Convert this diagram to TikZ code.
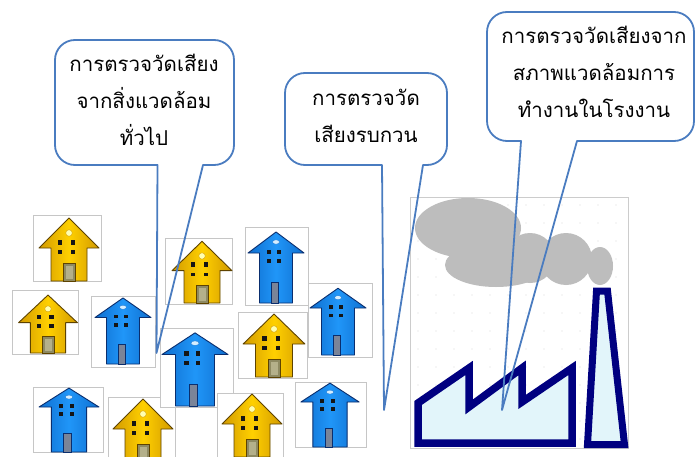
\documentclass[tikz,border=0pt]{standalone}
\usepackage{fontspec}
\newfontfamily\thaifont[Script=Thai]{Loma}
\definecolor{calloutblue}{HTML}{4A7CC0}
\definecolor{housegold}{HTML}{FFD000}
\definecolor{golddark}{HTML}{D29A00}
\definecolor{goldedge}{HTML}{5E4300}
\definecolor{houseblue}{HTML}{2096F8}
\definecolor{bluedark}{HTML}{0F6FD0}
\definecolor{blueedge}{HTML}{0A2E6E}
\definecolor{winblack}{HTML}{151515}
\definecolor{doorolive}{HTML}{8E8A62}
\definecolor{doorlight}{HTML}{B4B08A}
\definecolor{doorgrey}{HTML}{7A8498}
\definecolor{paleyellow}{HTML}{FFFFB0}
\definecolor{paleblue}{HTML}{D6EEFF}
\definecolor{navyline}{HTML}{000080}
\definecolor{smoke}{HTML}{BDBDBD}
\definecolor{floorfill}{HTML}{E2F5FA}
\begin{document}
\begin{tikzpicture}[x=1pt,y=-1pt,
  frame/.style={draw=gray!45, fill=white, line width=0.6pt},
  callout/.style={draw=calloutblue, line width=1.8pt, line join=round},
  calltext/.style={align=center, inner sep=0pt,
    font=\thaifont\fontsize{20.5}{37}\selectfont},
  yhouse/.pic={
    \path[draw=goldedge, line width=0.9pt, line join=round,
      left color=golddark, right color=golddark, middle color=housegold]
      (0,-63) -- (30,-33) -- (18,-33) -- (18,0) -- (-18,0)
      -- (-18,-33) -- (-30,-33) -- cycle;
    \fill[winblack] (-11.2,-41.5) rectangle (-6.8,-36.5);
    \fill[winblack] (1.5,-41.5) rectangle (6,-36.5);
    \fill[winblack] (-11.2,-31) rectangle (-6.8,-27.5);
    \fill[winblack] (1.5,-31) rectangle (6,-27.5);
    \draw[fill=doorolive, draw=goldedge, line width=0.6pt] (-5.5,-18) rectangle (6.5,0);
    \fill[doorlight] (-3,-15) rectangle (4,-2);
    \draw[fill=paleyellow, draw=golddark, line width=0.4pt] (0,-48) circle[radius=3.3];
  },
  bhouse/.pic={
    \path[draw=blueedge, line width=0.9pt, line join=round,
      left color=bluedark, right color=bluedark, middle color=houseblue]
      (0,-71) -- (28,-50) -- (16.5,-50) -- (16.5,0) -- (-16.5,0)
      -- (-16.5,-50) -- (-28,-50) -- cycle;
    \fill[winblack] (-9.5,-53) rectangle (-5.5,-49);
    \fill[winblack] (0.5,-53) rectangle (4.5,-49);
    \fill[winblack] (-9.5,-44) rectangle (-5.5,-40);
    \fill[winblack] (0.5,-44) rectangle (4.5,-40);
    \draw[fill=doorgrey, draw=blueedge, line width=0.5pt] (-5,-21) rectangle (2,0);
    \draw[fill=paleblue, draw=bluedark, line width=0.3pt] (0,-61) ellipse[x radius=3.5, y radius=2.2];
  }]
\useasboundingbox (0,0) rectangle (698,457);

% --- houses, each in its frame ---
\draw[frame] (33,215) rectangle (101,281);
\pic (h1) at (69,281) {yhouse};
\draw[frame] (12,290) rectangle (78,354);
\pic[xscale=0.98, yscale=0.92] (h2) at (48,353) {yhouse};
\draw[frame] (91,296) rectangle (155,367);
\pic[yscale=0.93] (h3) at (123,364) {bhouse};
\draw[frame] (165,238) rectangle (232,304);
\pic[yscale=0.98] (h4) at (202,303) {yhouse};
\draw[frame] (245,227) rectangle (308,305);
\pic (h5) at (276,303) {bhouse};
\draw[frame] (308,283) rectangle (372,357);
\pic[yscale=0.94] (h6) at (338,355) {bhouse};
\draw[frame] (238,312) rectangle (307,378);
\pic[xscale=1.03] (h7) at (274,377) {yhouse};
\draw[frame] (295,382) rectangle (366,447);
\pic[xscale=1.04, yscale=0.9] (h9) at (330,447) {bhouse};
\draw[frame] (33,387) rectangle (103,452);
\pic[xscale=1.07, yscale=0.9] (h12) at (69,452) {bhouse};
\draw[frame] (108,397) rectangle (175,462);
\pic (h11) at (143,462) {yhouse};
\draw[frame] (160,328) rectangle (233,407);
\pic[xscale=1.18, yscale=1.03] (h8) at (195,406) {bhouse};
\draw[frame] (217,393) rectangle (283,462);
\pic (h10) at (252,457) {yhouse};

% --- factory panel ---
\draw[draw=gray!40, fill=white, line width=0.5pt] (410,197) rectangle (628,448);
\foreach \i in {0,...,11}
  \foreach \j in {0,...,13}
    \fill[gray!30] (418+18*\i,205+18*\j) circle[radius=0.6];
\fill[smoke] (468,228) ellipse[x radius=53, y radius=30];
\fill[smoke] (496,265) ellipse[x radius=51, y radius=22];
\fill[smoke] (530,258) ellipse[x radius=25, y radius=25];
\fill[smoke] (566,259) ellipse[x radius=26, y radius=26];
\fill[smoke] (600,266) ellipse[x radius=13, y radius=19];
\draw[navyline, fill=floorfill, line width=7.5pt, line join=miter]
  (418,443) -- (418,403) -- (469,368) -- (469,407) -- (522,368)
  -- (522,402) -- (572,368) -- (572,443) -- cycle;
\draw[navyline, fill=floorfill, line width=7pt, line join=miter]
  (587.5,444.5) -- (596.5,291) -- (607.5,291) -- (624.5,444.5) -- cycle;

% --- speech balloons (rounded box, sharp pointer) ---
\draw[callout] (157.5,165) [rounded corners=20pt] -- (55,165) -- (55,40)
  -- (234,40) -- (234,165) [sharp corners] -- (203,165) -- (156.5,353) -- cycle;
\draw[callout] (382,165) [rounded corners=20pt] -- (285,165) -- (285,73)
  -- (447,73) -- (447,165) [sharp corners] -- (423,165) -- (384,410) -- cycle;
\draw[callout] (521,141) [rounded corners=20pt] -- (487,141) -- (487,12)
  -- (694,12) -- (694,141) [sharp corners] -- (577,141) -- (502,410) -- cycle;

\node[calltext] (t1) at (144,100) {\thaifont การตรวจวัดเสียง\\จากสิ่งแวดล้อม\\ทั่วไป};
\node[calltext] (t2) at (366,116) {\thaifont การตรวจวัด\\เสียงรบกวน};
\node[calltext] (t3) at (594,72) {\thaifont การตรวจวัดเสียงจาก\\สภาพแวดล้อมการ\\ทำงานในโรงงาน};
\end{tikzpicture}
\end{document}
